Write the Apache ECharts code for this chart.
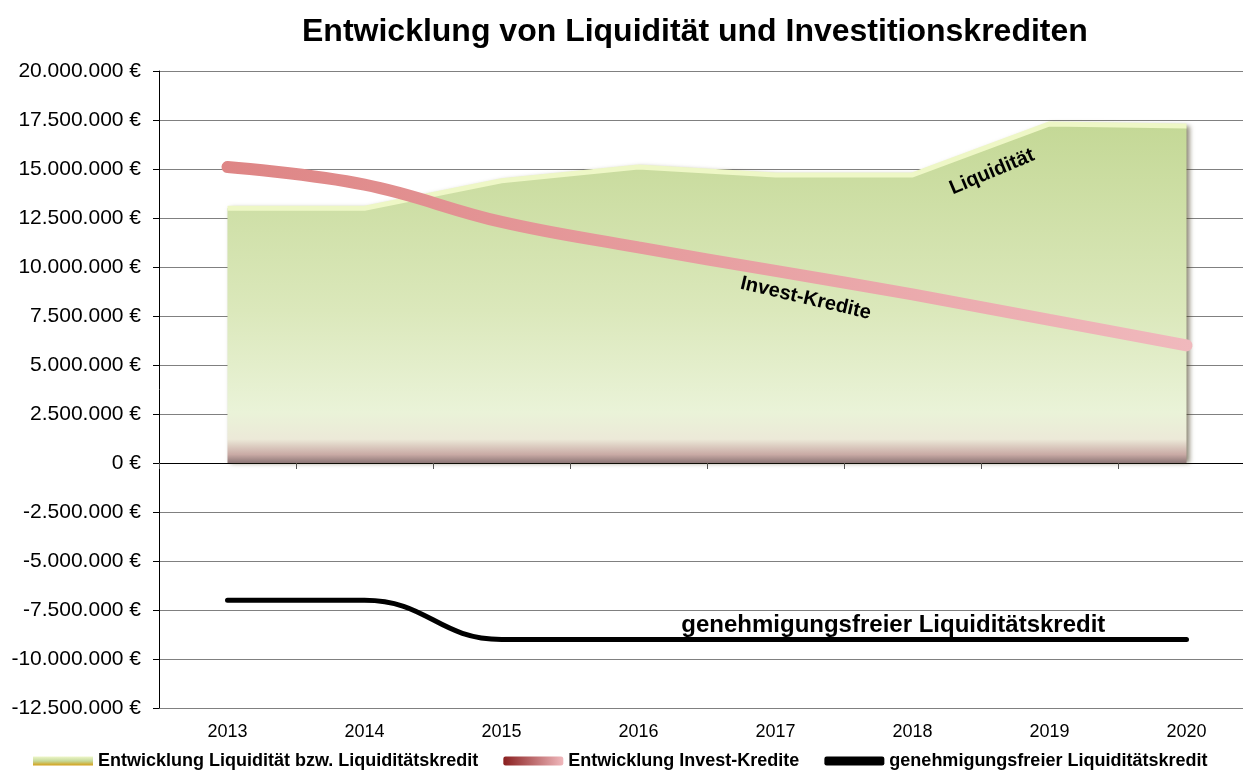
<!DOCTYPE html>
<html><head><meta charset="utf-8">
<script src="https://cdn.jsdelivr.net/npm/echarts@6/dist/echarts.min.js"></script>
<style>html,body{margin:0;padding:0;background:#fff;overflow:hidden}#c{width:1260px;height:772px}</style>
</head><body><div id="c"></div>
<script>
const years = ['2013','2014','2015','2016','2017','2018','2019','2020'];
const liquiditaet = [13000000, 13000000, 14400000, 15100000, 14700000, 14700000, 17300000, 17200000];
const investKredite = [15100000, 14200000, 12300000, 11000000, 9800000, 8600000, 7300000, 6000000];
const freierKredit = [-7000000, -7000000, -9000000, -9000000, -9000000, -9000000, -9000000, -9000000];
const names = ['Entwicklung Liquidität bzw. Liquiditätskredit','Entwicklung Invest-Kredite','genehmigungsfreier Liquiditätskredit'];

function fmt(v){
  const s = Math.abs(v).toString().replace(/\B(?=(\d{3})+(?!\d))/g,'.');
  return (v<0?'-':'') + s + ' €';
}
const F = 'Liberation Sans, Arial, sans-serif';
const chart = echarts.init(document.getElementById('c'));
chart.setOption({
  animation:false,
  title:{text:'Entwicklung von Liquidität und Investitionskrediten',left:297,top:11,
    textStyle:{fontFamily:F,fontSize:32,fontWeight:'bold',color:'#000'}},
  grid:{left:159,top:71,width:1096,height:637,containLabel:false},
  legend:{top:747,left:28,itemWidth:60,itemHeight:9,itemGap:25,
    textStyle:{fontFamily:F,fontSize:18,fontWeight:'bold',color:'#000'},
    data:[
      {name:names[0],icon:'rect',itemStyle:{color:new echarts.graphic.LinearGradient(0,0,0,1,[{offset:0,color:'#eef6c8'},{offset:0.5,color:'#c5d99a'},{offset:1,color:'#d4a017'}])}},
      {name:names[1],icon:'roundRect',itemStyle:{color:new echarts.graphic.LinearGradient(0,0,1,0,[{offset:0,color:'#8a2020'},{offset:1,color:'#f0b8bc'}])}},
      {name:names[2],icon:'roundRect',itemStyle:{color:'#000'}}
    ]},
  xAxis:[
    {type:'category',data:years,boundaryGap:true,position:'bottom',
     axisLine:{onZero:true,lineStyle:{color:'#000',width:1}},
     axisTick:{show:true,length:6,inside:false,lineStyle:{color:'#555'}},
     axisLabel:{show:false},splitLine:{show:false}},
    {type:'category',data:years,boundaryGap:true,position:'bottom',
     axisLine:{show:false},axisTick:{show:false},
     axisLabel:{show:true,margin:15,fontFamily:F,fontSize:18,color:'#000'},splitLine:{show:false}}
  ],
  yAxis:{type:'value',min:-12500000,max:20000000,interval:2500000,
    axisLine:{show:true,lineStyle:{color:'#000'}},
    axisTick:{show:true,length:6,lineStyle:{color:'#000'}},
    axisLabel:{margin:18,fontFamily:F,fontSize:21,color:'#000',formatter:fmt},
    splitLine:{show:true,lineStyle:{color:'#808080',width:1}}},
  series:[
    {name:names[0],type:'line',data:liquiditaet,xAxisIndex:0,symbol:'none',smooth:false,z:1,
     lineStyle:{color:'#eef7c6',width:5},
     itemStyle:{color:'#c5d99a'},
     areaStyle:{opacity:1,
       color:new echarts.graphic.LinearGradient(0,0,0,1,[
         {offset:0,color:'#c4d896'},{offset:0.55,color:'#dbe8bb'},{offset:0.85,color:'#eaf3d8'},
         {offset:0.93,color:'#ece9d8'},{offset:0.975,color:'#c9aaa5'},{offset:1,color:'#8c7676'}]),
       shadowColor:'rgba(60,50,20,0.6)',shadowBlur:5,shadowOffsetX:3,shadowOffsetY:0}},
    {name:names[1],type:'line',data:investKredite,xAxisIndex:0,symbol:'none',smooth:0.4,z:3,
     lineStyle:{width:12,cap:'round',
       color:new echarts.graphic.LinearGradient(0,0,1,0,[{offset:0,color:'#de8585'},{offset:1,color:'#f0b9bd'}])},
     itemStyle:{color:'#c06060'}},
    {name:names[2],type:'line',data:freierKredit,xAxisIndex:0,symbol:'none',smooth:0.45,z:3,
     lineStyle:{width:5,color:'#000',cap:'round'},itemStyle:{color:'#000'}}
  ]
});
const a0 = chart.convertToPixel({xAxisIndex:0,yAxisIndex:0},[0,0]);
const a1 = chart.convertToPixel({xAxisIndex:0,yAxisIndex:0},[1,0]);
const ay = chart.convertToPixel({xAxisIndex:0,yAxisIndex:0},[0,10000000]);
function px(i,v){return [a0[0]+i*(a1[0]-a0[0]), a0[1]+(ay[1]-a0[1])*v/10000000];}
const p1 = px(5.58,14850000), p2 = px(4.22,8400000), p3 = px(4.86,-8300000);
chart.setOption({graphic:[
  {type:'text',x:p1[0],y:p1[1],rotation:0.4,z:100,style:{text:'Liquidität',font:'bold 20px '+F,fill:'#000',align:'center',verticalAlign:'middle'}},
  {type:'text',x:p2[0],y:p2[1],rotation:-0.23,z:100,style:{text:'Invest-Kredite',font:'bold 20px '+F,fill:'#000',align:'center',verticalAlign:'middle'}},
  {type:'text',x:p3[0],y:p3[1],z:100,style:{text:'genehmigungsfreier Liquiditätskredit',font:'bold 24px '+F,fill:'#000',align:'center',verticalAlign:'middle'}}
]});
</script></body></html>
